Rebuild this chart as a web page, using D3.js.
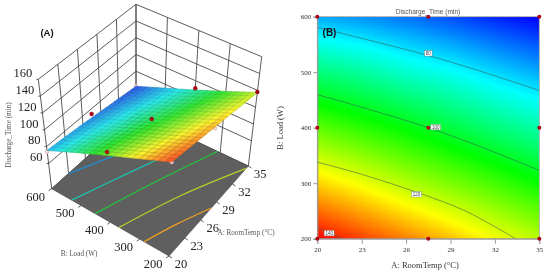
<!DOCTYPE html>
<html>
<head>
<meta charset="utf-8">
<script src="https://cdn.jsdelivr.net/npm/d3@7"></script>
<style>
    html, body { margin: 0; padding: 0; background: #fff; }
    svg { display: block; filter: blur(0.3px); }
</style>
</head>
<body>
<script>
// Values.
var tempTicks = [20, 23, 26, 29, 32, 35]
var loadTicks = [200, 300, 400, 500, 600]
var timeTicks = [60, 80, 100, 120, 140, 160]

// Discharge time, one row per load (200 to 600), one column per temp.
var timeRow200 = [143, 138, 133, 128, 122.5, 117.5]
var timeRow300 = [126.5, 122, 117, 112.5, 108, 103]
var timeRow400 = [110, 106, 102, 97.5, 93, 89]
var timeRow500 = [93, 90, 86, 83, 79, 75.5]
var timeRow600 = [75.5, 73.5, 71, 68, 65, 62]
var timeRows = [timeRow200, timeRow300, timeRow400, timeRow500, timeRow600]

// Design points: temp, load, measured time.
var designTemp = [20, 27.5, 35, 20, 27.5, 35, 20, 27.5, 35]
var designLoad = [200, 200, 200, 400, 400, 400, 600, 600, 600]
var designTime = [143, 129, 118, 114, 104, 91, 74, 74, 62]
var designAbove = [false, false, true, true, true, true, false, true, false]

// Contours of panel B, as [temp, load].
var contourLevels = [80, 100, 120, 140]
var contour80 = [[20, 581], [23, 561], [27.5, 530], [31, 502], [35, 467]]
var contour100 = [[20, 459.5], [23, 437], [27.5, 400], [31, 366], [35, 323]]
var contour120 = [[20, 338], [23, 316], [27, 281], [30, 250], [33.4, 200]]
var contour140 = [[20, 220], [21.7, 200]]
var contours = [contour80, contour100, contour120, contour140]
var labelTemp = [27.5, 28, 26.7, 20.8]
var labelLoad = [534, 401, 280, 210]

// Contours on the floor of panel A, as [temp, load].
var floorBlue = [[23, 600], [29, 535], [35, 470]]
var floorTeal = [[20, 532], [27.5, 465], [35, 385]]
var floorGreen = [[20, 452], [27.5, 390], [35, 310]]
var floorYellow = [[20, 370], [27.5, 300], [34.6, 200]]
var floorOrange = [[20, 285], [24, 248], [28, 200]]
var floorLines = [floorBlue, floorTeal, floorGreen, floorYellow, floorOrange]
var floorColors = ['#1f8fd0', '#19c4b0', '#22c83a', '#b9cf2a', '#f0a020']

function main() {
    var width = 550
    var height = 274
    var serif = '"Liberation Serif", serif'
    var sans = '"Liberation Sans", sans-serif'

    var svg = d3.select('body').append('svg')
        .attr('width', width)
        .attr('height', height)

    // Colour ramps, the 3D one is a bit softer.
    var rampStops = [62, 82, 102.5, 123, 143]
    var color = d3.scaleLinear()
        .domain(rampStops)
        .range(['#0000ff', '#00ffff', '#00ff00', '#ffff00', '#ff0000'])
        .clamp(true)
    var surfaceColor = d3.scaleLinear()
        .domain(rampStops)
        .range(['#2a50e8', '#25e8ee', '#2ee62e', '#fcf42c', '#fc4a28'])
        .clamp(true)

    // Reads the table, linear between the read values.
    function timeAt(temp, load) {
        var i = Math.min(d3.bisectRight(tempTicks, temp) - 1, tempTicks.length - 2)
        var j = Math.min(d3.bisectRight(loadTicks, load) - 1, loadTicks.length - 2)
        var u = (temp - tempTicks[i]) / (tempTicks[i + 1] - tempTicks[i])
        var v = (load - loadTicks[j]) / (loadTicks[j + 1] - loadTicks[j])
        var low = timeRows[j][i] + (timeRows[j][i + 1] - timeRows[j][i]) * u
        var high = timeRows[j + 1][i] + (timeRows[j + 1][i + 1] - timeRows[j + 1][i]) * u
        return low + (high - low) * v
    }

    drawCube()
    drawFlat()

    // Panel A: 3D surface.
    function drawCube() {
        var g = svg.append('g')
        var uScale = d3.scaleLinear().domain([20, 35]).range([0, 1])
        var vScale = d3.scaleLinear().domain([200, 600]).range([0, 1])
        var wScale = d3.scaleLinear().domain([30, 160]).range([0, 1])

        // Screen corners of the box: [temp end][load end], floor and top.
        var floorBox = [[[169, 256], [51.7, 188.7]], [[248.3, 166], [136, 113]]]
        var topBox = [[[172, 148], [38.3, 79.3]], [[261.7, 56.7], [136, 4.3]]]

        function corner(box, u, v, k) {
            var a = box[0][0][k] + (box[1][0][k] - box[0][0][k]) * u
            var b = box[0][1][k] + (box[1][1][k] - box[0][1][k]) * u
            return a + (b - a) * v
        }
        function project(temp, load, time) {
            var u = uScale(temp), v = vScale(load), w = wScale(time)
            return [0, 1].map(function (k) {
                var low = corner(floorBox, u, v, k)
                return low + (corner(topBox, u, v, k) - low) * w
            })
        }
        function addLine(parent, a, b, stroke, sw) {
            parent.append('line')
                .attr('x1', a[0]).attr('y1', a[1])
                .attr('x2', b[0]).attr('y2', b[1])
                .attr('stroke', stroke)
                .attr('stroke-width', sw)
        }

        // Back walls.
        var wallColor = '#4a4a4a'
        var wallTimes = timeTicks.concat([30])
        wallTimes.forEach(function (t) {
            addLine(g, project(20, 600, t), project(35, 600, t), wallColor, 0.9)
            addLine(g, project(35, 600, t), project(35, 200, t), wallColor, 0.9)
        })
        tempTicks.forEach(function (a) {
            addLine(g, project(a, 600, 30), project(a, 600, 160), wallColor, 0.9)
        })
        loadTicks.forEach(function (b) {
            addLine(g, project(35, b, 30), project(35, b, 160), wallColor, 0.9)
        })

        // Floor.
        var floorCorners = [[20, 200], [20, 600], [35, 600], [35, 200]].map(function (c) {
            return project(c[0], c[1], 30)
        })
        g.append('polygon')
            .attr('points', floorCorners.join(' '))
            .attr('fill', '#5f5f5f')
            .attr('stroke', '#444')
            .attr('stroke-width', 0.6)

        var floorPath = d3.line()
            .x(function (d) { return project(d[0], d[1], 30)[0] })
            .y(function (d) { return project(d[0], d[1], 30)[1] })
            .curve(d3.curveCatmullRom)
        g.selectAll('.floor-line')
            .data(floorLines)
            .enter().append('path')
            .attr('class', 'floor-line')
            .attr('d', floorPath)
            .attr('fill', 'none')
            .attr('stroke', function (d, i) { return floorColors[i] })
            .attr('stroke-width', 1.2)

        // Points under the surface go first.
        var points = designTemp.map(function (a, i) {
            return { temp: a, load: designLoad[i], time: designTime[i], above: designAbove[i] }
        })
        function addPoints(list) {
            g.selectAll(null)
                .data(list)
                .enter().append('circle')
                .attr('cx', function (d) { return project(d.temp, d.load, d.time)[0] })
                .attr('cy', function (d) { return project(d.temp, d.load, d.time)[1] })
                .attr('r', 2)
                .attr('fill', function (d) { return d.above ? '#a80012' : '#f7d3d0' })
                .attr('stroke', function (d) { return d.above ? '#8a0010' : '#c9a0a0' })
                .attr('stroke-width', 0.4)
        }
        addPoints(points.filter(function (d) { return !d.above }))

        // Surface mesh, from the back corner to the front one.
        var steps = d3.range(21)
        var stepTemp = d3.scaleLinear().domain([0, 20]).range([20, 35])
        var stepLoad = d3.scaleLinear().domain([0, 20]).range([200, 600])
        var cells = []
        steps.slice(0, 20).reverse().forEach(function (i) {
            steps.slice(0, 20).reverse().forEach(function (j) {
                cells.push([i, j])
            })
        })
        function meshPoint(i, j) {
            var a = stepTemp(i), b = stepLoad(j)
            return project(a, b, timeAt(a, b))
        }
        function cellColor(d) {
            return surfaceColor(timeAt(stepTemp(d[0] + 0.5), stepLoad(d[1] + 0.5)))
        }
        // Own colour as stroke, so the seams do not let the white through.
        g.selectAll('.cell')
            .data(cells)
            .enter().append('polygon')
            .attr('class', 'cell')
            .attr('points', function (d) {
                return [meshPoint(d[0], d[1]), meshPoint(d[0] + 1, d[1]),
                    meshPoint(d[0] + 1, d[1] + 1), meshPoint(d[0], d[1] + 1)].join(' ')
            })
            .attr('fill', cellColor)
            .attr('stroke', cellColor)
            .attr('stroke-width', 0.5)

        // Mesh lines on top.
        var meshLine = d3.line()
        steps.forEach(function (i) {
            g.append('path')
                .attr('d', meshLine(steps.map(function (j) { return meshPoint(i, j) })))
                .attr('fill', 'none')
                .attr('stroke', 'rgba(40,50,30,0.35)')
                .attr('stroke-width', 0.4)
            g.append('path')
                .attr('d', meshLine(steps.map(function (j) { return meshPoint(j, i) })))
                .attr('fill', 'none')
                .attr('stroke', 'rgba(40,50,30,0.35)')
                .attr('stroke-width', 0.4)
        })

        addPoints(points.filter(function (d) { return d.above }))

        // Tick marks and labels of the box.
        function label(text, x, y, anchor, size) {
            return g.append('text')
                .attr('x', x).attr('y', y)
                .attr('text-anchor', anchor)
                .attr('dy', '.35em')
                .attr('font-family', serif)
                .attr('font-size', size)
                .attr('fill', '#222')
                .text(text)
        }
        timeTicks.forEach(function (t) {
            var p = project(20, 600, t)
            addLine(g, [p[0] - 2, p[1]], p, '#333', 0.8)
            label(t, p[0] - 6, p[1] - 6.5, 'end', 12.5)
        })
        tempTicks.forEach(function (a) {
            var p = project(a, 200, 30)
            addLine(g, p, [p[0] + 3, p[1] + 2], '#333', 0.8)
            label(a, p[0] + 12, p[1] + 7.5, 'middle', 12.5)
        })
        loadTicks.forEach(function (b) {
            var p = project(20, b, 30)
            addLine(g, p, [p[0] - 3, p[1] + 2], '#333', 0.8)
            label(b, p[0] - 16, p[1] + 7.5, 'middle', 12.5)
        })

        label('A: RoomTemp (°C)', 246, 232.7, 'middle', 7.2).attr('fill', '#555')
        label('B: Load (W)', 79, 253.7, 'middle', 7.2).attr('fill', '#555')
        label('Discharge_Time (min)', 0, 0, 'middle', 7.2)
            .attr('fill', '#555')
            .attr('transform', 'translate(8,135) rotate(-90)')

        g.append('text')
            .attr('x', 47).attr('y', 35.5)
            .attr('text-anchor', 'middle')
            .attr('font-family', sans)
            .attr('font-weight', 'bold')
            .attr('font-size', 9.5)
            .attr('fill', '#111')
            .text('(A)')
    }

    // Panel B: flat contour plot.
    function drawFlat() {
        var g = svg.append('g')
        var xScale = d3.scaleLinear().domain([20, 35]).range([317.3, 539.3])
        var yScale = d3.scaleLinear().domain([200, 600]).range([238.7, 16.7])

        // Colour field, small rects in data steps.
        var tempSteps = d3.range(0, 111).map(d3.scaleLinear().domain([0, 111]).range([20, 35]))
        var loadSteps = d3.range(0, 111).map(d3.scaleLinear().domain([0, 111]).range([200, 600]))
        var tempStep = 15 / 111
        var loadStep = 400 / 111
        var fieldCells = []
        tempSteps.forEach(function (a) {
            loadSteps.forEach(function (b) {
                fieldCells.push([a, b])
            })
        })
        g.append('g').selectAll('rect')
            .data(fieldCells)
            .enter().append('rect')
            .attr('x', function (d) { return xScale(d[0]) })
            .attr('y', function (d) { return yScale(d[1] + loadStep) })
            .attr('width', xScale(20 + tempStep) - xScale(20))
            .attr('height', yScale(200) - yScale(200 + loadStep))
            .attr('shape-rendering', 'crispEdges')
            .attr('fill', function (d) {
                return color(timeAt(d[0] + tempStep / 2, d[1] + loadStep / 2))
            })

        // Contours.
        var contourPath = d3.line()
            .x(function (d) { return xScale(d[0]) })
            .y(function (d) { return yScale(d[1]) })
            .curve(d3.curveCatmullRom)
        g.selectAll('.contour')
            .data(contours)
            .enter().append('path')
            .attr('class', 'contour')
            .attr('d', contourPath)
            .attr('fill', 'none')
            .attr('stroke', '#3a5a50')
            .attr('stroke-opacity', 0.8)
            .attr('stroke-width', 0.7)

        // Axes.
        var xAxis = d3.axisBottom(xScale)
            .tickValues(tempTicks)
            .tickSize(5)
            .tickPadding(3)
        var yAxis = d3.axisLeft(yScale)
            .tickValues(loadTicks)
            .tickSize(4)
            .tickPadding(2)
        var xg = g.append('g')
            .attr('transform', 'translate(0,238.7)')
            .call(xAxis)
        var yg = g.append('g')
            .attr('transform', 'translate(317.3,0)')
            .call(yAxis)
        ;[xg, yg].forEach(function (axis) {
            axis.select('.domain').attr('stroke', '#999')
            axis.selectAll('line').attr('stroke', '#999')
            axis.selectAll('text')
                .attr('font-family', serif)
                .attr('font-size', 7)
                .attr('fill', '#333')
        })

        g.append('rect')
            .attr('x', xScale(20)).attr('y', yScale(600))
            .attr('width', xScale(35) - xScale(20))
            .attr('height', yScale(200) - yScale(600))
            .attr('fill', 'none')
            .attr('stroke', '#999')
            .attr('stroke-width', 0.8)

        // Contour labels.
        var labels = g.selectAll('.level')
            .data(contourLevels)
            .enter().append('g')
            .attr('class', 'level')
            .attr('transform', function (d, i) {
                return 'translate(' + xScale(labelTemp[i]) + ',' + yScale(labelLoad[i]) + ')'
            })
        labels.append('rect')
            .attr('x', function (d) { return d > 99 ? -5 : -3.8 })
            .attr('y', -2.7)
            .attr('width', function (d) { return d > 99 ? 10 : 7.6 })
            .attr('height', 5.4)
            .attr('fill', '#fff')
            .attr('stroke', '#777')
            .attr('stroke-width', 0.4)
        labels.append('text')
            .attr('text-anchor', 'middle')
            .attr('dy', '.35em')
            .attr('font-family', sans)
            .attr('font-size', 4.5)
            .attr('fill', '#444')
            .text(function (d) { return d })

        // Design points.
        g.selectAll('.design')
            .data(designTemp)
            .enter().append('circle')
            .attr('class', 'design')
            .attr('cx', function (d) { return xScale(d) })
            .attr('cy', function (d, i) { return yScale(designLoad[i]) })
            .attr('r', 2)
            .attr('fill', '#b00014')

        // Titles.
        g.append('text')
            .attr('x', 428).attr('y', 14)
            .attr('text-anchor', 'middle')
            .attr('font-family', sans)
            .attr('font-size', 6.6)
            .attr('fill', '#555')
            .text('Discharge_Time (min)')
        g.append('text')
            .attr('x', 425).attr('y', 268)
            .attr('text-anchor', 'middle')
            .attr('font-family', serif)
            .attr('font-size', 8.5)
            .attr('fill', '#333')
            .text('A: RoomTemp (°C)')
        g.append('text')
            .attr('transform', 'translate(283,128) rotate(-90)')
            .attr('text-anchor', 'middle')
            .attr('font-family', serif)
            .attr('font-size', 8.5)
            .attr('fill', '#333')
            .text('B: Load (W)')
        g.append('text')
            .attr('x', 329.5).attr('y', 35.5)
            .attr('text-anchor', 'middle')
            .attr('font-family', sans)
            .attr('font-weight', 'bold')
            .attr('font-size', 10)
            .attr('fill', '#111')
            .text('(B)')
    }
}

main()
</script>
</body>
</html>
